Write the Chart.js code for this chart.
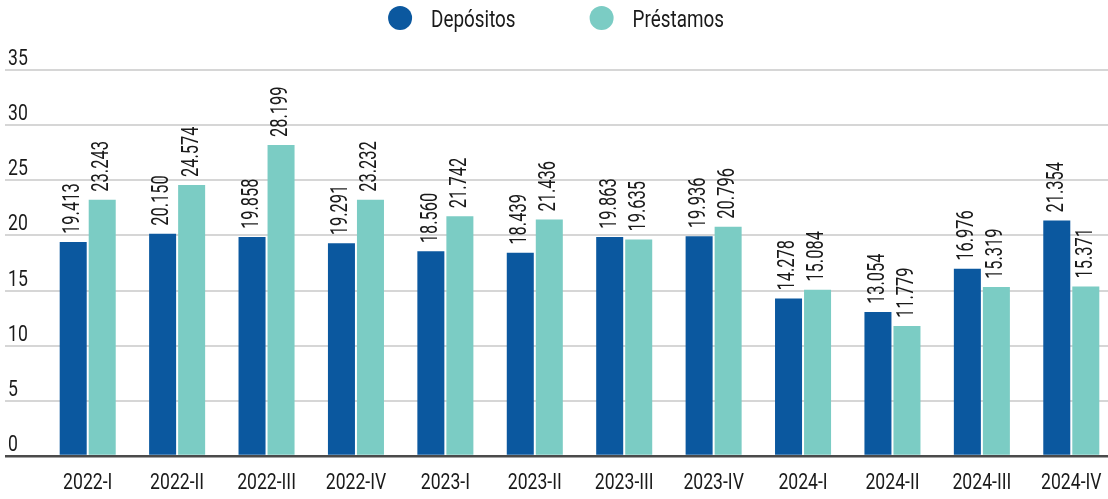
<!DOCTYPE html>
<html>
<head>
<meta charset="utf-8">
<script src="https://cdn.jsdelivr.net/npm/chart.js@4.4.1/dist/chart.umd.min.js"></script>
<style>
  html, body { margin: 0; padding: 0; background: #ffffff; overflow: hidden; width: 1108px; height: 499px; }
  #wrap { position: relative; width: 1117px; height: 499px; }
</style>
</head>
<body>
<div id="wrap"><canvas id="c" width="1117" height="499"></canvas></div>
<script>
const categories = ["2022-I","2022-II","2022-III","2022-IV","2023-I","2023-II","2023-III","2023-IV","2024-I","2024-II","2024-III","2024-IV"];
const depositos = [19.413, 20.150, 19.858, 19.291, 18.560, 18.439, 19.863, 19.936, 14.278, 13.054, 16.976, 21.354];
const prestamos = [23.243, 24.574, 28.199, 23.232, 21.742, 21.436, 19.635, 20.796, 15.084, 11.779, 15.319, 15.371];
const seriesNames = ["Depósitos", "Préstamos"];
const yTicks = [0, 5, 10, 15, 20, 25, 30, 35];

const colors = ["#0b589f", "#7bccc4"];
const TEXT = "#1a1a1a";
const FONT = "Roboto, 'Liberation Sans', sans-serif";

function condensedText(ctx, str, x, y, size, sx, align, baseline, rot) {
  ctx.save();
  ctx.font = size + "px " + FONT;
  ctx.fillStyle = TEXT;
  ctx.textAlign = align;
  ctx.textBaseline = baseline;
  ctx.translate(x, y);
  if (rot) ctx.rotate(rot);
  ctx.scale(sx, 1);
  ctx.fillText(str, 0, 0);
  ctx.restore();
}

const textPlugin = {
  id: 'textPlugin',
  afterDraw(chart) {
    const ctx = chart.ctx;
    const ys = chart.scales.y, xs = chart.scales.x;
    // y labels above gridlines
    yTicks.forEach(v => {
      const py = ys.getPixelForValue(v);
      condensedText(ctx, String(v), 8, py - 5, 22, 0.8, 'left', 'alphabetic');
    });
    // x labels
    categories.forEach((c, i) => {
      const px = xs.getPixelForValue(i);
      condensedText(ctx, c, px, chart.chartArea.bottom + 33, 22, 0.8, 'center', 'alphabetic');
    });
    // data labels
    chart.data.datasets.forEach((ds, di) => {
      const meta = chart.getDatasetMeta(di);
      meta.data.forEach((el, i) => {
        const txt = ds.data[i].toFixed(3);
        condensedText(ctx, txt, el.x, el.y - 8, 23.5, 0.7, 'left', 'middle', -Math.PI / 2);
      });
    });
    // legend
    const size = 23, sx = 0.82, r = 12, gapText = 19, gapItem = 74;
    ctx.save();
    ctx.font = size + "px " + FONT;
    const widths = seriesNames.map(n => ctx.measureText(n).width * sx);
    ctx.restore();
    const total = widths.reduce((a, w) => a + 2 * r + gapText + w, 0) + gapItem * (seriesNames.length - 1);
    let lx = 556 - total / 2;
    const ly = 18;
    seriesNames.forEach((n, i) => {
      ctx.save();
      ctx.fillStyle = colors[i];
      ctx.beginPath();
      ctx.arc(lx + r, ly, r, 0, Math.PI * 2);
      ctx.fill();
      ctx.restore();
      condensedText(ctx, n, lx + 2 * r + gapText, 27, size, sx, 'left', 'alphabetic');
      lx += 2 * r + gapText + widths[i] + gapItem;
    });
  }
};

new Chart(document.getElementById('c'), {
  type: 'bar',
  data: {
    labels: categories,
    datasets: [
      { label: seriesNames[0], data: depositos, backgroundColor: colors[0] },
      { label: seriesNames[1], data: prestamos, backgroundColor: colors[1] }
    ]
  },
  options: {
    responsive: false,
    devicePixelRatio: 1,
    animation: false,
    categoryPercentage: 0.649,
    barPercentage: 0.931,
    layout: { padding: { left: 5, right: 1, top: 70, bottom: 0 } },
    plugins: { legend: { display: false }, tooltip: { enabled: false } },
    scales: {
      x: {
        grid: { display: false, drawTicks: false },
        border: { display: false },
        ticks: { display: false },
        afterFit(s) { s.height = 43; }
      },
      y: {
        min: 0, max: 35,
        ticks: { display: false, stepSize: 5 },
        border: { display: false },
        grid: {
          drawTicks: true,
          tickLength: 38,
          lineWidth: (c) => (c.tick && c.tick.value === 0) ? 2.5 : 2,
          color: (c) => (c.tick && c.tick.value === 0) ? '#4a4a4a' : '#d6d6d6',
          tickColor: (c) => (c.tick && c.tick.value === 0) ? '#4a4a4a' : '#d6d6d6',
          tickWidth: (c) => (c.tick && c.tick.value === 0) ? 2.5 : 2
        },
        afterFit(s) { s.width = 38; }
      }
    }
  },
  plugins: [textPlugin]
});
</script>
</body>
</html>
